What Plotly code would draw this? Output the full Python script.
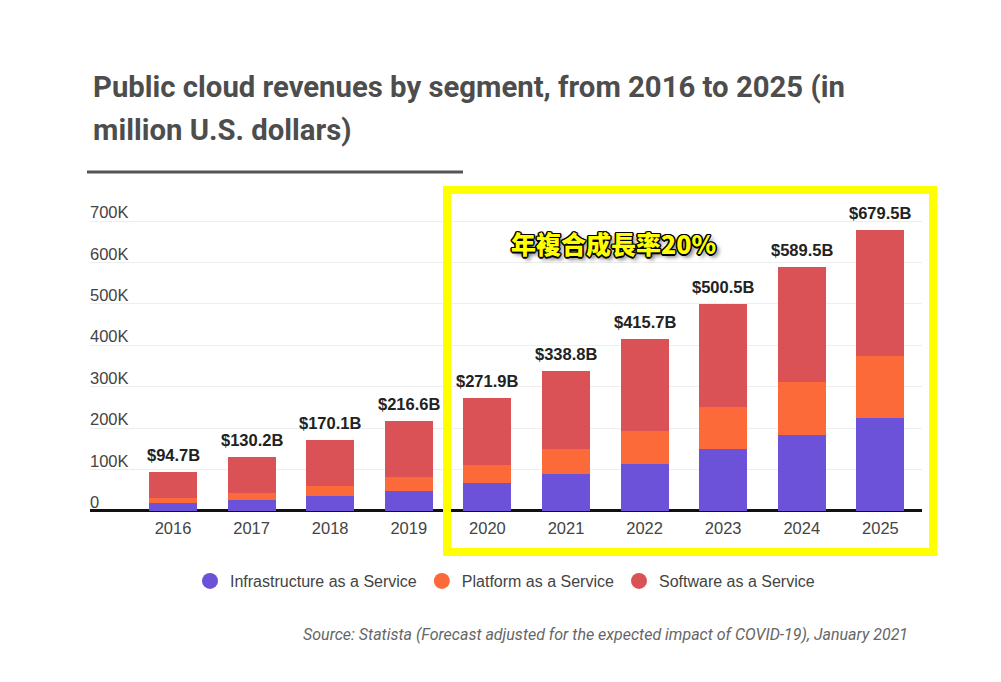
import plotly.graph_objects as go

years = ["2016", "2017", "2018", "2019", "2020", "2021", "2022", "2023", "2024", "2025"]
iaas = [18.6, 25.0, 36.0, 48.0, 67.0, 88.6, 113.5, 149.0, 183.0, 224.6]
paas = [13.4, 17.0, 24.0, 34.0, 44.0, 61.4, 79.5, 101.0, 128.6, 149.4]
totals = [94.7, 130.2, 170.1, 216.6, 271.9, 338.8, 415.7, 500.5, 589.5, 679.5]
saas = [round(t - i - p, 1) for t, i, p in zip(totals, iaas, paas)]
total_labels = ["$%.1fB" % t for t in totals]
series_names = ["Infrastructure as a Service", "Platform as a Service", "Software as a Service"]
colors = ["#6b52d9", "#fd6a3a", "#da5256"]
yticks = [0, 100, 200, 300, 400, 500, 600, 700]
ytick_text = ["0", "100K", "200K", "300K", "400K", "500K", "600K", "700K"]

xs = list(range(len(years)))
fig = go.Figure()
for name, vals, col in zip(series_names, [iaas, paas, saas], colors):
    fig.add_trace(go.Bar(x=xs, y=vals, name=name, marker_color=col, marker_line_width=0,
                         width=0.61, showlegend=False, hoverinfo="skip"))
for name, col in zip(series_names, colors):
    fig.add_trace(go.Scatter(x=[None], y=[None], mode="markers", name=name,
                             marker=dict(symbol="circle", size=20, color=col)))

for x, t, lab in zip(xs, totals, total_labels):
    fig.add_annotation(x=x, y=t, text="<b>%s</b>" % lab, showarrow=False, yanchor="bottom",
                       yshift=6, font=dict(family="Liberation Sans, Arial", size=16.5, color="#222222"))

# plot area: top 190, bottom 517 (zero line at ~511)
PH = 327.0
def py(p):
    return (517 - p) / PH
def px(p):
    return (p - 90) / 832.0

fig.add_annotation(xref="paper", yref="paper", x=px(91), y=py(106), xanchor="left", yanchor="bottom",
                   text="<b>Public cloud revenues by segment, from 2016 to 2025 (in</b>", showarrow=False,
                   font=dict(family="Roboto", size=29.3, color="#4d4d4d"))
fig.add_annotation(xref="paper", yref="paper", x=px(91), y=py(149), xanchor="left", yanchor="bottom",
                   text="<b>million U.S. dollars)</b>", showarrow=False,
                   font=dict(family="Roboto", size=29.3, color="#4d4d4d"))
fig.add_shape(type="line", xref="paper", yref="paper", x0=px(87), x1=px(463), y0=py(172), y1=py(172),
              line=dict(color="#555555", width=3))

fig.add_shape(type="rect", xref="paper", yref="paper", x0=px(447), x1=px(933), y0=py(552), y1=py(190),
              line=dict(color="#ffff00", width=8))

fig.add_annotation(x=(613 - 173) / 78.6, y=(511 - 243) / 0.414, text="年複合成長率20%", showarrow=False,
                   font=dict(family="Noto Sans CJK TC", size=25, color="#ffff00", weight=900,
                             shadow="1px 1px 0 #000, -1px -1px 0 #000, 1px -1px 0 #000, -1px 1px 0 #000, 0 1.5px 0 #000, 0 -1.5px 0 #000, 1.5px 0 0 #000, -1.5px 0 0 #000, 3px 3px 4px rgba(0,0,0,0.6)"))

fig.add_annotation(xref="paper", yref="paper", x=px(910), y=py(634), xanchor="right", yanchor="middle",
                   text="<i>Source: Statista (Forecast adjusted for the expected impact of COVID-19), January 2021</i>",
                   showarrow=False, font=dict(family="Roboto", size=16, color="#666666"))

fig.update_layout(
    width=1001, height=682, autosize=False,
    margin=dict(l=90, r=79, t=190, b=165),
    barmode="stack", plot_bgcolor="white", paper_bgcolor="white",
    xaxis=dict(range=[-(173 - 90) / 78.6, (922 - 173) / 78.6], tickvals=xs, ticktext=years,
               showgrid=False, zeroline=False, showline=False, ticks="", ticklabelstandoff=-1,
               tickfont=dict(family="Liberation Sans, Arial", size=16.5, color="#444444")),
    yaxis=dict(range=[-15, 775], tickvals=yticks, ticktext=ytick_text, showgrid=True,
               gridcolor="#eeeeee", gridwidth=1, zeroline=True, zerolinecolor="#111111", zerolinewidth=3,
               ticklabelposition="inside top", ticks="", ticklabelshift=3, ticklabelstandoff=-3,
               tickfont=dict(family="Liberation Sans, Arial", size=16.5, color="#444444")),
    legend=dict(orientation="h", x=px(505), xanchor="center", y=py(581), yanchor="middle",
                font=dict(family="Liberation Sans, Arial", size=16, color="#444444"),
                itemsizing="trace", traceorder="normal"),
)
fig.write_html("out.html")
